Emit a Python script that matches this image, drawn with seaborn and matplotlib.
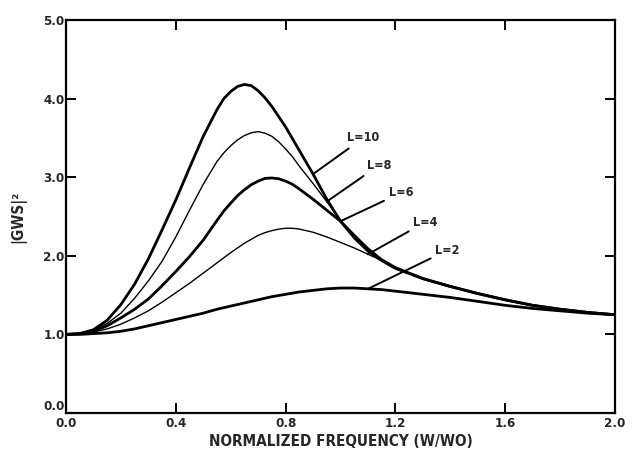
import matplotlib
matplotlib.use("Agg")
import matplotlib.pyplot as plt
import seaborn as sns
import pandas as pd

# ---- data ----
FREQ = [0.0, 0.05, 0.1, 0.15, 0.2, 0.25, 0.3, 0.35, 0.4, 0.45, 0.5, 0.55,
        0.575, 0.6, 0.625, 0.65, 0.675, 0.7, 0.725, 0.75, 0.775, 0.8, 0.825,
        0.85, 0.9, 0.95, 1.0, 1.05, 1.1, 1.15, 1.2,
        1.3, 1.4, 1.5, 1.6, 1.7, 1.8, 1.9, 2.0]

G_L10 = [1.00, 1.01, 1.06, 1.18, 1.38, 1.64, 1.96, 2.33, 2.71, 3.12, 3.52, 3.86,
         4.00, 4.09, 4.155, 4.18, 4.165, 4.10, 4.01, 3.90, 3.77, 3.64, 3.49,
         3.34, 3.04, 2.72, 2.44, 2.23, 2.06, 1.94, 1.84,
         1.71, 1.61, 1.52, 1.44, 1.37, 1.32, 1.28, 1.25]
G_L8 = [1.00, 1.01, 1.05, 1.14, 1.27, 1.46, 1.68, 1.93, 2.24, 2.58, 2.91, 3.20,
        3.31, 3.40, 3.475, 3.53, 3.565, 3.58, 3.56, 3.52, 3.45, 3.36, 3.26,
        3.14, 2.92, 2.69, 2.45, 2.23, 2.06, 1.94, 1.84,
        1.71, 1.61, 1.52, 1.44, 1.37, 1.32, 1.28, 1.25]
G_L6 = [1.00, 1.01, 1.04, 1.11, 1.21, 1.32, 1.45, 1.62, 1.80, 1.99, 2.20, 2.45,
        2.57, 2.67, 2.765, 2.84, 2.905, 2.95, 2.985, 2.99, 2.98, 2.95, 2.91,
        2.85, 2.72, 2.58, 2.44, 2.26, 2.09, 1.95, 1.85,
        1.71, 1.61, 1.52, 1.44, 1.37, 1.32, 1.28, 1.25]
G_L4 = [1.00, 1.01, 1.03, 1.07, 1.13, 1.21, 1.30, 1.41, 1.53, 1.65, 1.78, 1.91,
        1.975, 2.04, 2.10, 2.16, 2.21, 2.26, 2.295, 2.32, 2.34, 2.35, 2.35,
        2.34, 2.30, 2.24, 2.17, 2.10, 2.02, 1.94, 1.85,
        1.71, 1.61, 1.52, 1.44, 1.37, 1.32, 1.28, 1.25]
G_L2 = [1.00, 1.00, 1.01, 1.02, 1.04, 1.07, 1.11, 1.15, 1.19, 1.23, 1.27, 1.32,
        1.34, 1.36, 1.38, 1.40, 1.42, 1.44, 1.46, 1.48, 1.495, 1.51, 1.525,
        1.54, 1.56, 1.58, 1.59, 1.59, 1.58, 1.57, 1.55,
        1.51, 1.47, 1.42, 1.37, 1.33, 1.30, 1.27, 1.25]

SERIES_LABELS = ["L=10", "L=8", "L=6", "L=4", "L=2"]
SERIES = [G_L10, G_L8, G_L6, G_L4, G_L2]

X_TICKS = [0.0, 0.4, 0.8, 1.2, 1.6, 2.0]
Y_TICKS = [0.0, 1.0, 2.0, 3.0, 4.0, 5.0]
X_LABEL = "NORMALIZED FREQUENCY (W/WO)"
Y_LABEL = "|GWS|²"

# ---- styling ----
sns.set_style("ticks")
plt.rcParams["font.family"] = ["Liberation Sans Narrow", "DejaVu Sans"]

LW = {"L=10": 2.0, "L=8": 1.0, "L=6": 2.0, "L=4": 1.0, "L=2": 2.0}
# (frequency of the curve point where the leader starts, label position)
LEADER = {"L=10": (0.9, (1.025, 3.50)),
          "L=8": (0.95, (1.095, 3.15)),
          "L=6": (1.0, (1.175, 2.80)),
          "L=4": (1.1, (1.265, 2.43)),
          "L=2": (1.1, (1.345, 2.07))}

df = pd.concat([pd.DataFrame({"freq": FREQ, "g": vals, "L": lab})
                for lab, vals in zip(SERIES_LABELS, SERIES)], ignore_index=True)

fig = plt.figure(figsize=(6.34, 4.58), dpi=100)
ax = fig.add_axes([66 / 634, 1 - 413 / 458, (615 - 66) / 634, (413 - 20) / 458])

for lab in SERIES_LABELS:
    sub = df[df["L"] == lab]
    sns.lineplot(data=sub, x="freq", y="g", ax=ax, color="black",
                 linewidth=LW[lab], legend=False,
                 solid_joinstyle="round", solid_capstyle="round")

for lab, vals in zip(SERIES_LABELS, SERIES):
    fx, txt = LEADER[lab]
    idx = FREQ.index(fx)
    ax.annotate(lab, xy=(FREQ[idx], vals[idx]), xytext=txt,
                ha="left", va="center", fontsize=9, fontweight="bold",
                fontstretch="condensed",
                arrowprops=dict(arrowstyle="-", color="black", lw=1.4,
                                shrinkA=1, shrinkB=0))

ax.set_xlim(0, 2.0)
ax.set_ylim(0, 5.0)
ax.set_xticks(X_TICKS)
ax.set_yticks(Y_TICKS)
ax.set_xticklabels([f"{v:.1f}" for v in X_TICKS], fontsize=9.5,
                   fontweight="bold", fontstretch="condensed")
ax.set_yticklabels([f"{v:.1f}" for v in Y_TICKS], fontsize=9.5,
                   fontweight="bold", fontstretch="condensed")
ax.tick_params(axis="x", direction="in", length=7, width=1.4, top=True,
               pad=3, color="black")
ax.tick_params(axis="y", direction="in", length=7, width=1.4, right=True,
               pad=1, color="black")
# keep the y "0.0" label just above the corner so it does not touch the x "0.0"
ax.get_yticklabels()[0].set_verticalalignment("bottom")
for s in ax.spines.values():
    s.set_linewidth(1.6)
    s.set_color("black")
ax.set_xlabel(X_LABEL, fontsize=11, fontweight="bold", fontstretch="condensed",
              labelpad=3)
ax.set_ylabel(Y_LABEL, fontsize=11, fontweight="bold", fontstretch="condensed",
              labelpad=12)

fig.savefig("out.png", dpi=100)
